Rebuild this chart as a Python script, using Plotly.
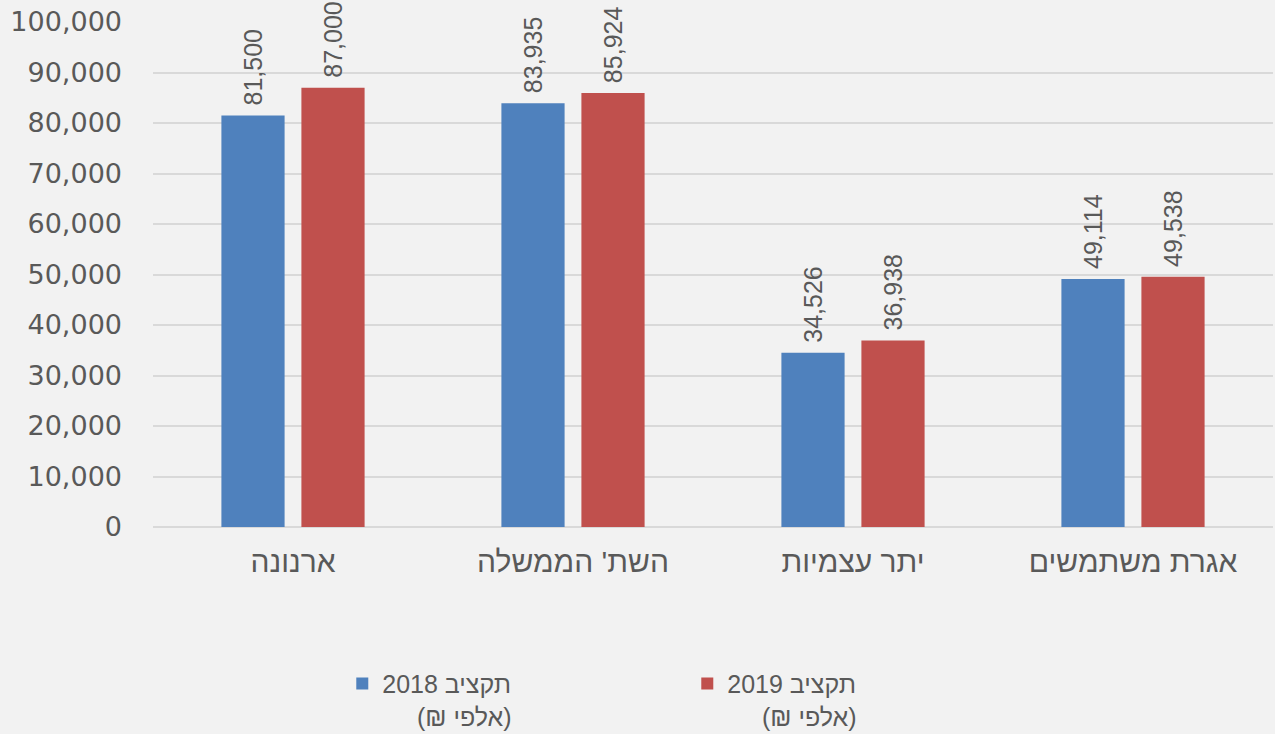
import plotly.graph_objects as go

categories = ["ארנונה", "השת' הממשלה", "יתר עצמיות", "אגרת משתמשים"]
budget_2018 = [81500, 83935, 34526, 49114]
budget_2019 = [87000, 85924, 36938, 49538]
series_names = ["2018 תקציב<br>" + "\u00a0" * 5 + "(₪ אלפי)",
                "2019 תקציב<br>" + "\u00a0" * 5 + "(₪ אלפי)"]
tick_vals = [0, 10000, 20000, 30000, 40000, 50000, 60000, 70000, 80000, 90000, 100000]

TXT = "#595959"
fig = go.Figure()
for name, vals, col in [(series_names[0], budget_2018, "#4F81BD"),
                        (series_names[1], budget_2019, "#C0504D")]:
    fig.add_trace(go.Bar(
        x=categories, y=vals, name=name, marker_color=col,
        marker_line_width=0,
        text=["\u00a0" + f"{v:,}" for v in vals], textposition="outside", textangle=-90,
        constraintext="none",
        textfont=dict(family="Liberation Sans Narrow, Arial Narrow, sans-serif", size=25, color=TXT),
        cliponaxis=False,
    ))

fig.update_layout(
    width=1275, height=734,
    paper_bgcolor="#F2F2F2", plot_bgcolor="#F2F2F2",
    margin=dict(l=153, r=2, t=22, b=207, autoexpand=False),
    barmode="group", bargap=0.4286, bargroupgap=0.21,
    font=dict(family="Liberation Sans, Arial, sans-serif", size=24, color=TXT),
    showlegend=True,
    legend=dict(orientation="h", x=0.169, xanchor="left", y=-0.265, yanchor="top",
                valign="top",
                font=dict(family="Liberation Sans, Arial, sans-serif", size=25, color=TXT),
                entrywidth=300, bgcolor="rgba(0,0,0,0)", traceorder="normal"),
)
fig.update_yaxes(range=[0, 100000], tickvals=tick_vals, tickformat=",",
                 showgrid=True, gridcolor="#D9D9D9", gridwidth=1.5, zeroline=True,
                 zerolinecolor="#D9D9D9", zerolinewidth=1.5, ticklabelstandoff=30,
                 tickfont=dict(family="DejaVu Sans, Verdana, sans-serif", size=27, color=TXT))
fig.update_xaxes(showgrid=False, ticks="", ticklabelstandoff=14,
                 tickfont=dict(family="Liberation Sans, Arial, sans-serif", size=30, color=TXT))

fig.write_html("out.html", config={"displayModeBar": False},
               post_script="document.body.style.margin='0';document.body.style.overflow='hidden';")
